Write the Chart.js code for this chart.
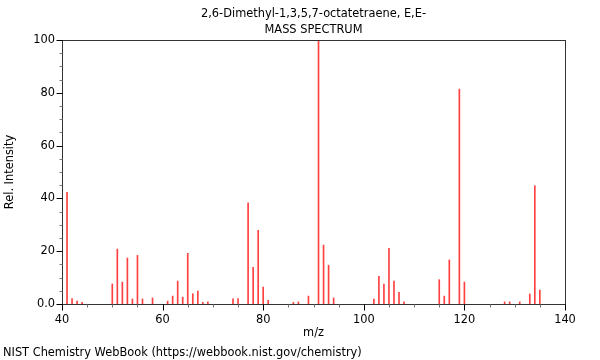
<!DOCTYPE html>
<html>
<head>
<meta charset="utf-8">
<script src="https://cdn.jsdelivr.net/npm/chart.js@4/dist/chart.umd.min.js"></script>
<style>
html,body{margin:0;padding:0;background:#fff;}
#wrap{width:600px;height:360px;position:relative;}
</style>
</head>
<body>
<div id="wrap"><canvas id="c" width="600" height="360"></canvas></div>
<script>
const titleLines = ["2,6-Dimethyl-1,3,5,7-octatetraene, E,E-", "MASS SPECTRUM"];
const footerText = "NIST Chemistry WebBook (https://webbook.nist.gov/chemistry)";
const xTitle = "m/z";
const yTitle = "Rel. Intensity";
const mz = [41,42,43,44,50,51,52,53,54,55,56,58,61,62,63,64,65,66,67,68,69,74,75,77,78,79,80,81,86,87,89,91,92,93,94,102,103,104,105,106,107,108,115,116,117,119,120,128,129,131,133,134,135];
const intensity = [42.3,2.1,1.1,0.6,7.6,20.8,8.3,17.4,1.9,18.4,1.9,2.3,1.1,3.0,8.7,2.6,19.2,3.9,4.9,0.6,0.8,2.0,2.1,38.3,13.9,27.9,6.4,1.4,0.6,0.8,3.0,100,22.3,14.7,2.3,1.9,10.5,7.5,21.1,8.7,4.4,0.8,9.2,3.0,16.7,81.4,8.3,0.8,0.8,0.8,3.8,44.8,5.3];
const xTickValues = [40,60,80,100,120,140];
const xTickLabels = ["40","60","80","100","120","140"];
const yTickValues = [0,20,40,60,80,100];
const yTickLabels = ["0.0","20","40","60","80","100"];

const FS = 11.4;
Chart.defaults.font.family = "'DejaVu Sans', sans-serif";
Chart.defaults.font.size = FS;
Chart.defaults.color = "#000";

const FONT = FS + "px 'DejaVu Sans', sans-serif";

const decor = {
  id: 'decor',
  afterDraw(chart) {
    const ctx = chart.ctx;
    const a = chart.chartArea;
    const xs = chart.scales.x, ys = chart.scales.y;
    ctx.save();
    ctx.strokeStyle = '#333';
    ctx.lineWidth = 1;
    const L = Math.round(a.left) + 0.5, R = Math.round(a.right) + 0.5;
    const T = Math.round(a.top) + 0.5, B = Math.round(a.bottom) + 0.5;
    ctx.strokeRect(L, T, R - L, B - T);
    for (let v = 40; v <= 140; v += 5) {
      const p = Math.round(xs.getPixelForValue(v)) + 0.5;
      const major = v % 20 === 0;
      ctx.strokeStyle = major ? '#000' : '#777';
      ctx.beginPath();
      ctx.moveTo(p, B);
      ctx.lineTo(p, B + (major ? 6 : 3));
      ctx.stroke();
    }
    for (let v = 0; v <= 100; v += 5) {
      const p = Math.round(ys.getPixelForValue(v)) + 0.5;
      const major = v % 20 === 0;
      ctx.strokeStyle = major ? '#000' : '#777';
      ctx.beginPath();
      ctx.moveTo(L, p);
      ctx.lineTo(L - (major ? 6 : 3), p);
      ctx.stroke();
    }
    ctx.fillStyle = '#000';
    ctx.font = FONT;
    ctx.textAlign = 'center';
    ctx.textBaseline = 'middle';
    const cx = (a.left + a.right) / 2;
    ctx.fillText(titleLines[0], cx, 14);
    ctx.fillText(titleLines[1], cx, 30);
    ctx.fillText(xTitle, cx, 333);
    ctx.save();
    ctx.translate(10, (a.top + a.bottom) / 2);
    ctx.rotate(-Math.PI / 2);
    ctx.fillText(yTitle, 0, 0);
    ctx.restore();
    ctx.textAlign = 'left';
    ctx.fillText(footerText, 3, 353);
    ctx.restore();
  }
};

new Chart(document.getElementById('c'), {
  type: 'bar',
  data: {
    datasets: [{
      data: mz.map((m, i) => ({ x: m, y: intensity[i] })),
      backgroundColor: 'rgba(255,0,0,0.75)',
      borderWidth: 0,
      barThickness: 1,
      grouped: false
    }]
  },
  options: {
    responsive: false,
    animation: false,
    devicePixelRatio: 1,
    layout: { padding: { top: 40, right: 35, left: 0, bottom: 0 } },
    plugins: { legend: { display: false }, tooltip: { enabled: false }, title: { display: false } },
    scales: {
      x: {
        type: 'linear', min: 40, max: 140, offset: false,
        afterFit: s => { s.height = 56; },
        afterBuildTicks: s => { s.ticks = xTickValues.map(v => ({ value: v })); },
        ticks: {
          autoSkip: false, maxRotation: 0, padding: 9,
          callback: (v) => { const i = xTickValues.indexOf(v); return i >= 0 ? xTickLabels[i] : ''; }
        },
        grid: { display: false, drawTicks: false },
        border: { display: false }
      },
      y: {
        min: 0, max: 100,
        afterFit: s => { s.width = 62; },
        afterBuildTicks: s => { s.ticks = yTickValues.map(v => ({ value: v })); },
        ticks: {
          autoSkip: false, padding: 7,
          callback: (v) => { const i = yTickValues.indexOf(v); return i >= 0 ? yTickLabels[i] : ''; }
        },
        grid: { display: false, drawTicks: false },
        border: { display: false }
      }
    }
  },
  plugins: [decor]
});
</script>
</body>
</html>
